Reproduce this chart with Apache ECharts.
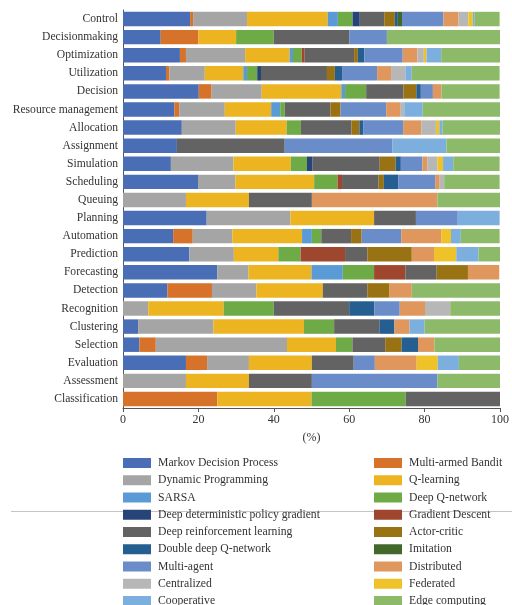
<!DOCTYPE html>
<html>
<head>
<meta charset="utf-8">
<script src="https://cdn.jsdelivr.net/npm/echarts@6/dist/echarts.min.js"></script>
<style>html,body{margin:0;padding:0;background:#fff;}#c{width:512px;height:605px;}</style>
</head>
<body>
<div id="c"></div>
<script>
const categories = ["Control","Decisionmaking","Optimization","Utilization","Decision","Resource management","Allocation","Assignment","Simulation","Scheduling","Queuing","Planning","Automation","Prediction","Forecasting","Detection","Recognition","Clustering","Selection","Evaluation","Assessment","Classification"];
const xTicks = [0, 20, 40, 60, 80, 100];

const markov      = [17.8,10,15.1,11.4,20.1,13.6,15.6,14.3,12.7,19.9,0,22.2,13.3,17.6,25,11.8,0,4,4.35,16.7,0,0];
const bandit      = [0.8,10,1.6,0.9,3.4,1.3,0,0,0,0,0,0,5.2,0,0,11.8,0,0,4.35,5.6,0,25];
const dynProg     = [14.3,0,15.7,9.4,13.3,12.1,14.3,0,16.6,9.9,16.7,22.2,10.5,11.8,8.3,11.8,6.7,20,34.8,11.1,16.7,0];
const qLearning   = [21.4,10,11.8,10.2,21.1,12.3,13.5,0,15.2,20.9,16.7,22.2,18.5,11.8,16.7,17.6,20,24,13,16.7,16.7,25];
const sarsa       = [2.7,0,0.9,1.0,1.0,2.4,0,0,0,0,0,0,2.6,0,8.3,0,0,0,0,0,0,0];
const dqn         = [3.9,10,2.3,2.7,5.6,1.2,3.8,0,4.3,6.2,0,0,2.5,5.9,8.3,0,13.3,8,4.35,0,0,25];
const ddpg        = [1.9,0,0,1.0,0,0,0,0,1.5,0,0,0,0,0,0,0,0,0,0,0,0,0];
const gradDescent = [0,0,0.8,0,0,0,0,0,0,1.2,0,0,0,11.8,8.3,0,0,0,0,0,0,0];
const drl         = [6.5,20,13.1,17.5,9.9,12.1,13.4,28.6,17.8,9.7,16.7,11.1,7.9,5.9,8.3,11.8,20,12,8.7,11.1,16.7,25];
const actorCritic = [2.8,0,1.0,2.1,3.4,2.7,2.1,0,4.2,1.4,0,0,2.8,11.8,8.3,5.9,0,0,4.35,0,0,0];
const ddqn        = [0.8,0,1.7,1.9,1.2,0,1.0,0,1.4,3.8,0,0,0,0,0,0,6.7,4,4.35,0,0,0];
const imitation   = [1.1,0,0,0,0,0,0,0,0,0,0,0,0,0,0,0,0,0,0,0,0,0];
const multiAgent  = [11.0,10,10.2,9.3,3.2,12.1,10.6,28.6,5.7,9.8,0,11.1,10.5,0,0,0,6.7,0,0,5.6,33.3,0];
const distributed = [4.0,0,3.9,3.7,2.3,3.7,4.8,0,1.3,1.2,33.3,0,10.6,5.9,8.3,5.9,6.7,4,4.35,11.1,0,0];
const centralized = [2.6,0,1.7,3.8,0,1.1,3.9,0,2.7,1.2,0,0,0,0,0,0,6.7,0,0,0,0,0];
const federated   = [1.2,0,0.7,0,0,0,0.9,0,1.5,0,0,0,2.6,5.9,0,0,0,0,0,5.6,0,0];
const cooperative = [0.5,0,3.9,1.7,0,4.9,0.9,14.3,2.7,0,0,11.1,2.6,5.9,0,0,0,4,0,5.6,0,0];
const edge        = [6.6,30,15.6,23.3,15.4,20.6,15.3,14.3,12.3,14.7,16.7,0,10.3,5.9,0,23.5,13.3,20,17.4,11.1,16.7,0];

const seriesNames = ["Markov Decision Process","Multi-armed Bandit","Dynamic Programming","Q-learning","SARSA","Deep Q-network","Deep deterministic policy gradient","Gradient Descent","Deep reinforcement learning","Actor-critic","Double deep Q-network","Imitation","Multi-agent","Distributed","Centralized","Federated","Cooperative","Edge computing"];
const seriesData = [markov,bandit,dynProg,qLearning,sarsa,dqn,ddpg,gradDescent,drl,actorCritic,ddqn,imitation,multiAgent,distributed,centralized,federated,cooperative,edge];
const seriesColors = ["#4a6eb5","#d6722a","#a5a5a5","#ebb420","#5b9bd5","#6eab46","#264478","#9e472e","#636363","#997313","#255e91","#43682b","#6a8cc8","#df975e","#b7b7b7","#f0c22a","#7cafdd","#8cba68"];

const FONT = "Liberation Serif";
const TXT = "#333";
const chart = echarts.init(document.getElementById('c'), null, {renderer: 'canvas'});

const leftNames = seriesNames.filter((n, i) => i % 2 === 0);
const rightNames = seriesNames.filter((n, i) => i % 2 === 1);
const legendCommon = {
  orient: 'vertical', top: 457, height: 200, padding: 0,
  itemWidth: 28, itemHeight: 10, itemGap: 5.25,
  icon: 'rect', selectedMode: false,
  textStyle: {fontFamily: FONT, fontSize: 11.7, color: TXT, lineHeight: 12, padding: [0,0,0,2]}
};

chart.setOption({
  backgroundColor: '#fff',
  animation: false,
  color: seriesColors,
  grid: {left: 123, right: 7.7, top: 10, bottom: 197, containLabel: false},
  legend: [
    Object.assign({left: 123, data: leftNames}, legendCommon),
    Object.assign({left: 374, data: rightNames}, legendCommon)
  ],
  graphic: [{
    type: 'line', z: -1, silent: true,
    shape: {x1: 11, y1: 511.5, x2: 512, y2: 511.5},
    style: {stroke: '#c4c4c4', lineWidth: 1}
  }],
  xAxis: {
    type: 'value', min: 0, max: 100, interval: 20,
    name: '(%)', nameLocation: 'middle', nameGap: 24,
    nameTextStyle: {fontFamily: FONT, fontSize: 12, color: TXT},
    axisLine: {show: true, lineStyle: {color: '#555', width: 1}},
    axisTick: {show: true, length: 4, lineStyle: {color: '#555'}},
    splitLine: {show: false},
    axisLabel: {fontFamily: FONT, fontSize: 12, color: TXT, margin: 6,
      formatter: v => xTicks.includes(v) ? String(v) : ''}
  },
  yAxis: {
    type: 'category', data: categories, inverse: true,
    axisLine: {show: true, lineStyle: {color: '#555', width: 1}},
    axisTick: {show: false},
    axisLabel: {fontFamily: FONT, fontSize: 11.6, color: TXT, margin: 5, interval: 0}
  },
  series: seriesNames.map((name, i) => ({
    name: name, type: 'bar', stack: 'total',
    barCategoryGap: '20%',
    data: seriesData[i],
    itemStyle: {color: seriesColors[i]}
  }))
});
</script>
</body>
</html>
